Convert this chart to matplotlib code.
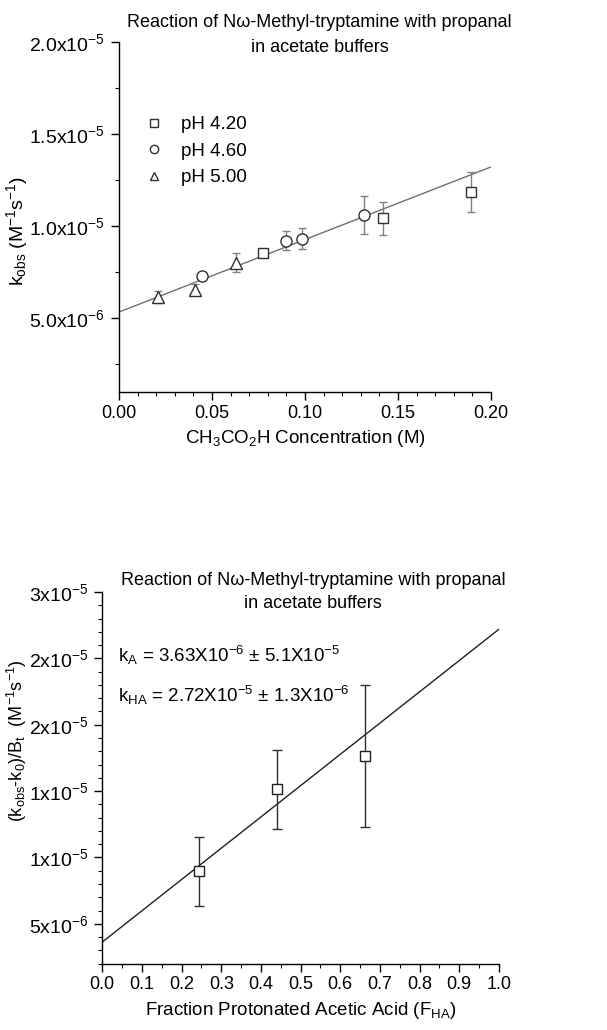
import numpy as np
import matplotlib
matplotlib.use("Agg")
import matplotlib.pyplot as plt
from matplotlib.ticker import MultipleLocator
from matplotlib.lines import Line2D

plt.rcParams["font.family"] = ["Liberation Sans", "DejaVu Sans"]
plt.rcParams["mathtext.fontset"] = "custom"
plt.rcParams["mathtext.rm"] = "Liberation Sans"
plt.rcParams["mathtext.it"] = "Liberation Sans"
plt.rcParams["mathtext.default"] = "regular"

TITLE = "Reaction of N\u03c9-Methyl-tryptamine with propanal\nin acetate buffers"

# ── Panel 1: k_obs vs acetic acid concentration ─────────────────────────────
ph42_x = [0.0774, 0.1418, 0.1892]
ph42_y = [8.53e-6, 1.042e-5, 1.185e-5]
ph42_err = [0.15e-6, 0.92e-6, 1.10e-6]

ph46_x = [0.0446, 0.0896, 0.0982, 0.1319]
ph46_y = [7.30e-6, 9.22e-6, 9.33e-6, 1.060e-5]
ph46_err = [0.15e-6, 0.50e-6, 0.56e-6, 1.04e-6]

ph50_x = [0.0211, 0.0410, 0.0629]
ph50_y = [6.16e-6, 6.56e-6, 8.03e-6]
ph50_err = [0.35e-6, 0.30e-6, 0.52e-6]

series_labels = ["pH 4.20", "pH 4.60", "pH 5.00"]

fit1_intercept = 5.34e-6
fit1_slope = 3.94e-5
fit1_xrange = [0.0, 0.20]

y1_ticks = [5e-6, 1e-5, 1.5e-5, 2e-5]
y1_labels = ["5.0x10$^{-6}$", "1.0x10$^{-5}$", "1.5x10$^{-5}$", "2.0x10$^{-5}$"]
x1_ticks = [0.00, 0.05, 0.10, 0.15, 0.20]
x1_labels = ["0.00", "0.05", "0.10", "0.15", "0.20"]

# ── Panel 2: normalised rate vs fraction protonated ─────────────────────────
fha_x = [0.243, 0.440, 0.663]
fha_y = [8.95e-6, 1.515e-5, 1.766e-5]
fha_err = [2.60e-6, 2.97e-6, 5.35e-6]

k_A = 3.63e-6
k_HA = 2.72e-5

y2_ticks = [5e-6, 1e-5, 1.5e-5, 2e-5, 2.5e-5, 3e-5]
y2_labels = ["5x10$^{-6}$", "1x10$^{-5}$", "1x10$^{-5}$", "2x10$^{-5}$",
             "2x10$^{-5}$", "3x10$^{-5}$"]
x2_ticks = [0.0, 0.1, 0.2, 0.3, 0.4, 0.5, 0.6, 0.7, 0.8, 0.9, 1.0]
x2_labels = [f"{v:.1f}" for v in x2_ticks]

FS = 13

fig = plt.figure(figsize=(6.07, 10.30), dpi=100)


def style_axes(ax):
    for s in ("top", "right"):
        ax.spines[s].set_visible(False)
    for s in ("left", "bottom"):
        ax.spines[s].set_linewidth(1.0)
    ax.tick_params(which="major", direction="out", length=6, width=1.0,
                   labelsize=FS, pad=3)
    ax.tick_params(which="minor", direction="out", length=3, width=0.8)
    ax.tick_params(axis="y", which="major", labelsize=FS + 1, pad=4)


# panel 1
ax1 = fig.add_axes([0.196, 0.6194, 0.613, 0.3398])
mk = "#303030"
eb = "#808080"
markers = ["s", "o", "^"]
sizes = [7, 8, 9]
for xs, ys, es, m, s in zip([ph42_x, ph46_x, ph50_x],
                            [ph42_y, ph46_y, ph50_y],
                            [ph42_err, ph46_err, ph50_err],
                            markers, sizes):
    ax1.errorbar(xs, ys, yerr=es, fmt=m, ms=s, mfc="white", mec=mk, mew=1.0,
                 ecolor=eb, elinewidth=1.0, capsize=3, capthick=1.0, zorder=3)
fx = np.array(fit1_xrange)
ax1.plot(fx, fit1_intercept + fit1_slope * fx, color="#707070", lw=1.0,
         zorder=2)

ax1.set_xlim(0, 0.20)
ax1.set_ylim(1e-6, 2e-5)
ax1.set_xticks(x1_ticks, x1_labels)
ax1.set_yticks(y1_ticks, y1_labels)
ax1.xaxis.set_minor_locator(MultipleLocator(0.01))
ax1.yaxis.set_minor_locator(MultipleLocator(2.5e-6))
style_axes(ax1)
ax1.set_xlabel("CH$_3$CO$_2$H Concentration (M)", fontsize=FS + 0.5,
               labelpad=5)
ax1.set_ylabel("k$_{obs}$ (M$^{-1}$s$^{-1}$)", fontsize=FS + 1)
ax1.yaxis.set_label_coords(-0.24, 0.46)
ax1.text(0.539, 1.019, TITLE, transform=ax1.transAxes, ha="center",
         va="center", fontsize=FS, linespacing=1.6)

handles = [Line2D([], [], ls="none", marker=m, ms=6, mfc="white", mec=mk,
                  mew=1.0) for m in markers]
ax1.legend(handles, series_labels, loc="upper left",
           bbox_to_anchor=(0.05, 0.81), frameon=False,
           prop={"size": FS + 0.5},
           handletextpad=0.9, labelspacing=0.5, handlelength=1.0,
           borderaxespad=0)

# panel 2
ax2 = fig.add_axes([0.1685, 0.0644, 0.6535, 0.3608])
ax2.errorbar(fha_x, fha_y, yerr=fha_err, fmt="s", ms=7, mfc="white",
             mec="#202020", mew=1.0, ecolor="#303030", elinewidth=1.0,
             capsize=3.5, capthick=1.0, zorder=3)
fx2 = np.array([0.0, 1.0])
ax2.plot(fx2, k_A + (k_HA - k_A) * fx2, color="#202020", lw=1.0, zorder=2)

ax2.set_xlim(0, 1.0)
ax2.set_ylim(2e-6, 3e-5)
ax2.set_xticks(x2_ticks, x2_labels)
ax2.set_yticks(y2_ticks, y2_labels)
ax2.xaxis.set_minor_locator(MultipleLocator(0.05))
ax2.yaxis.set_minor_locator(MultipleLocator(1e-6))
style_axes(ax2)
ax2.set_xlabel("Fraction Protonated Acetic Acid (F$_{HA}$)",
               fontsize=FS + 0.5, labelpad=5)
ax2.set_ylabel("(k$_{obs}$-k$_0$)/B$_t$  (M$^{-1}$s$^{-1}$)", fontsize=FS)
ax2.yaxis.set_label_coords(-0.185, 0.60)
ax2.text(0.531, 1.0, TITLE, transform=ax2.transAxes, ha="center",
         va="center", fontsize=FS, linespacing=1.5)
ax2.text(0.04, 0.83, "k$_A$ = 3.63X10$^{-6}$ \u00b1 5.1X10$^{-5}$",
         transform=ax2.transAxes, fontsize=FS + 0.5, va="center")
ax2.text(0.04, 0.723, "k$_{HA}$ = 2.72X10$^{-5}$ \u00b1 1.3X10$^{-6}$",
         transform=ax2.transAxes, fontsize=FS + 0.5, va="center")

fig.savefig("out.png", dpi=100)
